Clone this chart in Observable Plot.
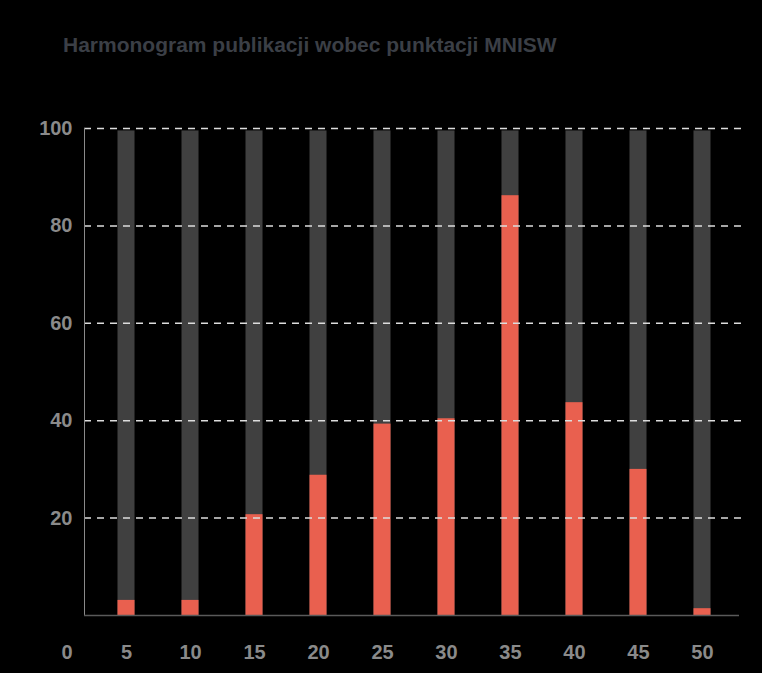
<!DOCTYPE html>
<html>
<head>
<meta charset="utf-8">
<script src="https://cdn.jsdelivr.net/npm/d3@7"></script>
<script src="https://cdn.jsdelivr.net/npm/@observablehq/plot@0.6"></script>
<style>
  html, body { margin: 0; padding: 0; background: #000; }
  #wrap { position: relative; width: 762px; height: 673px; background: #000; }
  #title { position: absolute; left: 63px; top: 33px; font-family: "Liberation Sans", Arial, sans-serif; font-weight: bold; font-size: 21px; color: #3b3f46; white-space: nowrap; }
  #chart { position: absolute; left: 0; top: 0; }
</style>
</head>
<body>
<div id="wrap">
  <div id="chart"></div>
  <div id="title">Harmonogram publikacji wobec punktacji MNISW</div>
</div>
<script>
const categories = ["5", "10", "15", "20", "25", "30", "35", "40", "45", "50"];
const published = [3.1, 3.1, 20.7, 28.8, 39.3, 40.4, 86.2, 43.7, 30.0, 1.4];
const totals = [99.5, 99.5, 99.5, 99.5, 99.5, 99.5, 99.5, 99.5, 99.5, 99.5];
const yTicks = [20, 40, 60, 80, 100];
const yZero = [0];

const rows = categories.map((c, i) => ({cat: c, total: totals[i], value: published[i]}));

const font = "Liberation Sans, Arial, sans-serif";
const labelColor = "#8a8a8a";

const chart = Plot.plot({
  width: 762,
  height: 673,
  marginTop: 128,
  marginBottom: 58,
  marginLeft: 84,
  marginRight: 17,
  style: {background: "#000", fontFamily: font},
  x: {type: "band", domain: categories, range: [117.5, 710.5], paddingInner: 0.734, paddingOuter: 0, round: false},
  y: {domain: [0, 100]},
  marks: [
    Plot.barY(rows, {x: "cat", y: "total", fill: "#404040"}),
    Plot.barY(rows, {x: "cat", y: "value", fill: "#e9604f"}),
    Plot.gridY(yTicks, {stroke: "#dddddd", strokeOpacity: 1, strokeWidth: 1.5, strokeDasharray: "7,6"}),
    Plot.frame({anchor: "left", stroke: "#8a8a8a", strokeWidth: 1}),
    Plot.ruleY([0], {stroke: "#5a5a5a", strokeWidth: 1.5, insetRight: 6}),
    Plot.axisY(yTicks, {tickSize: 0, tickPadding: 12, fontSize: 20, fontWeight: "bold", color: labelColor, label: null}),
    Plot.text(yZero, {y: d => d, text: d => String(d), frameAnchor: "left", textAnchor: "end", dx: -12, lineAnchor: "top", dy: 29, fontSize: 20, fontWeight: "bold", fill: labelColor}),
    Plot.axisX({tickSize: 0, tickPadding: 29, fontSize: 20, fontWeight: "bold", color: labelColor, label: null})
  ]
});
document.getElementById("chart").appendChild(chart);
</script>
</body>
</html>
